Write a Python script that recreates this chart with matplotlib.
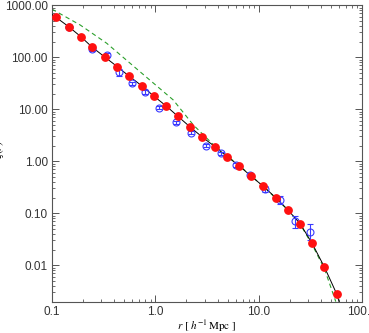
import numpy as np
import matplotlib
matplotlib.use("Agg")
import matplotlib.pyplot as plt
from matplotlib.ticker import FixedLocator, FormatStrFormatter, LogLocator, NullFormatter

# ── Data ─────────────────────────────────────────────────────────────────────
# model points (red filled circles)
model_r  = [0.109, 0.145, 0.190, 0.245, 0.324, 0.428, 0.560, 0.737, 0.964,
            1.27, 1.66, 2.18, 2.86, 3.77, 4.95, 6.47, 8.46, 11.1, 14.6,
            19.1, 25.2, 32.9, 43.4, 57.0]
model_xi = [588, 387, 249, 156, 101, 66, 43, 28.4, 18.0,
            11.6, 7.27, 4.53, 2.90, 1.91, 1.23, 0.822, 0.515, 0.330, 0.200,
            0.117, 0.063, 0.0265, 0.00916, 0.0028]

# thin black curve through the model (ends read at the frame)
curve_r  = [0.1] + model_r + [60.0]
curve_xi = [660] + model_xi + [0.002]

# green dashed comparison curve
dash_r  = [0.1, 0.187, 0.338, 0.71, 1.49, 2.33, 3.77, 6.47, 11.1, 19.1,
           25.2, 32.9, 43.4, 55.8]
dash_xi = [840, 418, 186, 52.8, 15.1, 5.0, 1.95, 0.83, 0.33, 0.117,
           0.062, 0.025, 0.0085, 0.002]

# measurements (blue open circles with error bars)
obs_r  = [0.145, 0.245, 0.340, 0.442, 0.590, 0.793, 1.08, 1.58, 2.22,
          3.08, 4.28, 5.98, 8.28, 11.6, 16.2, 22.4, 31.3]
obs_xi = [387, 143, 111, 51.5, 31.6, 21.5, 10.7, 5.57, 3.55,
          2.0, 1.43, 0.849, 0.546, 0.293, 0.180, 0.0711, 0.0431]
obs_lo = [367, 131, 101, 43.6, 29.1, 20.0, 9.9, 5.17, 3.30,
          1.85, 1.33, 0.789, 0.506, 0.258, 0.150, 0.0515, 0.0306]
obs_hi = [407, 155, 121, 60.5, 34.1, 23.0, 11.5, 5.97, 3.80,
          2.15, 1.53, 0.909, 0.586, 0.328, 0.210, 0.090, 0.0624]

yticks = [0.01, 0.1, 1, 10, 100, 1000]
xticks = [0.1, 1, 10, 100]

# ── Style ─────────────────────────────────────────────────────────────────────
RED   = "#ff1010"
BLUE  = "#3a3aff"
GREEN = "#2ca02c"
SPINE = "#555555"

plt.rcParams.update({
    "font.family": ["Liberation Sans", "DejaVu Sans"],
    "font.size": 8.5,
    "mathtext.fontset": "stix",
    "xtick.direction": "in",
    "ytick.direction": "in",
    "xtick.top": True,
    "ytick.right": True,
    "xtick.color": SPINE,
    "ytick.color": SPINE,
    "xtick.labelcolor": "#333333",
    "ytick.labelcolor": "#333333",
    "xtick.major.size": 5, "ytick.major.size": 5,
    "xtick.minor.size": 2.5, "ytick.minor.size": 2.5,
    "xtick.major.width": 0.7, "ytick.major.width": 0.7,
    "xtick.minor.width": 0.6, "ytick.minor.width": 0.6,
    "axes.edgecolor": SPINE,
    "axes.linewidth": 0.8,
})

fig = plt.figure(figsize=(3.69, 3.33), dpi=100)
ax = fig.add_axes([0.1409, 0.0943, 0.840, 0.890])

ax.plot(dash_r, dash_xi, color=GREEN, lw=0.8, dashes=(4, 3), zorder=2)
ax.plot(curve_r, curve_xi, color="black", lw=0.7, zorder=3)

yerr = [np.array(obs_xi) - np.array(obs_lo), np.array(obs_hi) - np.array(obs_xi)]
ax.errorbar(obs_r, obs_xi, yerr=yerr, fmt="o", ms=5, mfc="none", mec=BLUE,
            mew=0.8, ecolor=BLUE, elinewidth=0.8, capsize=2.5, capthick=0.8,
            zorder=4)
ax.plot(model_r, model_xi, "o", color=RED, ms=5.3, mec=RED, zorder=5)

ax.set_xscale("log")
ax.set_yscale("log")
ax.set_xlim(0.1, 100)
ax.set_ylim(0.002, 1000)

ax.xaxis.set_major_locator(FixedLocator(xticks))
ax.xaxis.set_major_formatter(FormatStrFormatter("%.1f"))
ax.xaxis.set_minor_locator(LogLocator(base=10, subs=np.arange(2, 10)))
ax.xaxis.set_minor_formatter(NullFormatter())
ax.yaxis.set_major_locator(FixedLocator(yticks))
ax.yaxis.set_major_formatter(FormatStrFormatter("%.2f"))
ax.yaxis.set_minor_locator(LogLocator(base=10, subs=np.arange(2, 10)))
ax.yaxis.set_minor_formatter(NullFormatter())
ax.tick_params(axis="both", which="major", pad=3)

ax.set_xlabel(r"$r\ [\ h^{-1}\,\mathrm{Mpc}\ ]$", fontsize=8, labelpad=0)
fig.text(-0.002, 0.55, r"$\xi(r)$", rotation=90, fontsize=8,
         ha="center", va="center")

fig.savefig("out.png", dpi=100)
